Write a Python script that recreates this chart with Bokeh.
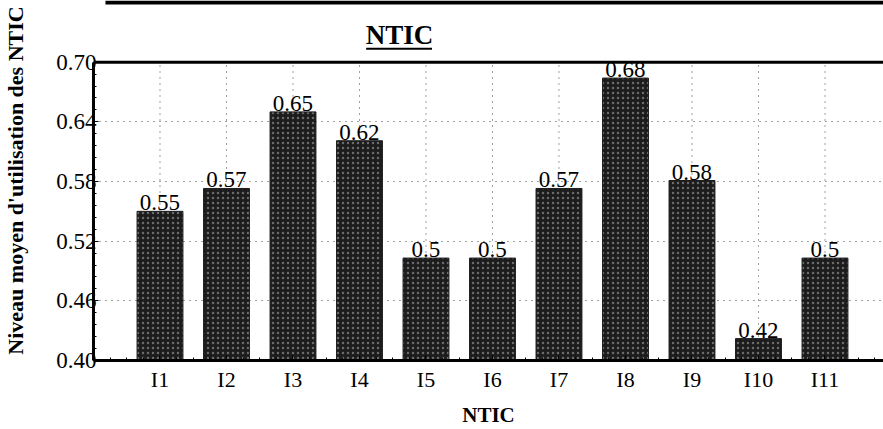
from bokeh.plotting import figure
from bokeh.models import ColumnDataSource, FixedTicker, LabelSet, Range1d, Label, Span
from bokeh.embed import file_html
from bokeh.resources import INLINE

categories = ["I1", "I2", "I3", "I4", "I5", "I6", "I7", "I8", "I9", "I10", "I11"]
values = [0.55, 0.573, 0.65, 0.621, 0.503, 0.503, 0.573, 0.684, 0.581, 0.422, 0.503]
labels = ["0.55", "0.57", "0.65", "0.62", "0.5", "0.5", "0.57", "0.68", "0.58", "0.42", "0.5"]
y_ticks = [0.40, 0.46, 0.52, 0.58, 0.64, 0.70]
y_tick_labels = ["0.40", "0.46", "0.52", "0.58", "0.64", "0.70"]
title_text = "NTIC"
x_title = "NTIC"
y_title = "Niveau moyen d'utilisation des NTIC"

Y_MIN, Y_MAX = 0.40, 0.70
positions = list(range(1, len(categories) + 1))
src = ColumnDataSource(dict(x=positions, top=values, label=labels))

SERIF = "Liberation Serif"

# the frame reaches the top of the canvas; the chart box itself is 0.40..0.70
p = figure(width=883, height=429, output_backend="svg", toolbar_location=None,
           x_range=Range1d(0, 11.88), y_range=Range1d(Y_MIN, 0.762),
           min_border_left=93, min_border_right=0, min_border_top=0, min_border_bottom=67)

# vertical dotted grid at the categories, inside the chart box only
p.segment(x0=positions, y0=[Y_MIN] * len(positions), x1=positions, y1=[Y_MAX] * len(positions),
          line_color="#444444", line_dash="1 5", line_width=1)

p.vbar(x="x", top="top", bottom=Y_MIN, width=0.69, source=src,
       fill_color="#1c1c1c", line_color="#1c1c1c",
       hatch_pattern="dot", hatch_color="white", hatch_alpha=0.35, hatch_scale=5)

p.add_layout(LabelSet(x="x", y="top", text="label", source=src, text_align="center",
                      text_baseline="bottom", y_offset=1, text_font=SERIF,
                      text_font_size="23px", text_color="black"))

# top border of the chart box
p.add_layout(Span(location=Y_MAX, dimension="width", line_color="black", line_width=3))

# title, its underline, and the scanned page rule above it
p.add_layout(Label(x=4.60, y=0.727, text=title_text, text_align="center", text_baseline="middle",
                   text_font=SERIF, text_font_style="bold", text_font_size="27px",
                   text_color="black"))
p.segment(x0=[4.10], y0=[0.7135], x1=[5.09], y1=[0.7135], line_color="black", line_width=2)
p.segment(x0=[0.18], y0=[0.760], x1=[11.88], y1=[0.760], line_color="black", line_width=4)

p.xaxis.ticker = FixedTicker(ticks=positions, minor_ticks=[i / 4 for i in range(0, 48)])
p.xaxis.major_label_overrides = {pos: c for pos, c in zip(positions, categories)}
p.yaxis.ticker = FixedTicker(ticks=y_ticks, minor_ticks=[0.40 + i * 0.012 for i in range(26)])
p.yaxis.major_label_overrides = {t: l for t, l in zip(y_ticks, y_tick_labels)}
p.yaxis.bounds = (Y_MIN, Y_MAX)

for ax in (p.xaxis, p.yaxis):
    ax.axis_line_width = 3
    ax.axis_line_color = "black"
    ax.major_tick_in = 5
    ax.major_tick_out = 0
    ax.minor_tick_in = 3
    ax.minor_tick_out = 0
    ax.major_tick_line_color = "black"
    ax.minor_tick_line_color = "black"
    ax.major_label_text_font = SERIF
    ax.major_label_text_font_size = "23px"
    ax.major_label_text_color = "black"
    ax.axis_label_text_font = SERIF
    ax.axis_label_text_font_style = "bold"
    ax.axis_label_text_font_size = "21px"
    ax.axis_label_text_color = "black"

p.xaxis.axis_label = x_title
p.xaxis.major_label_text_font_size = "22px"
p.xaxis.major_label_standoff = 6
p.xaxis.axis_label_standoff = 8
p.yaxis.axis_label = y_title
p.yaxis.axis_label_text_font_size = "22px"
p.yaxis.major_label_standoff = -3
p.yaxis.axis_label_standoff = 25

p.xgrid.visible = False
p.ygrid.ticker = FixedTicker(ticks=y_ticks[1:-1])
p.ygrid.grid_line_color = "#444444"
p.ygrid.grid_line_dash = "1 5"
p.ygrid.grid_line_width = 1

p.outline_line_color = None
p.background_fill_color = "white"
p.border_fill_color = "white"

open("out.html", "w").write(file_html(p, INLINE))
